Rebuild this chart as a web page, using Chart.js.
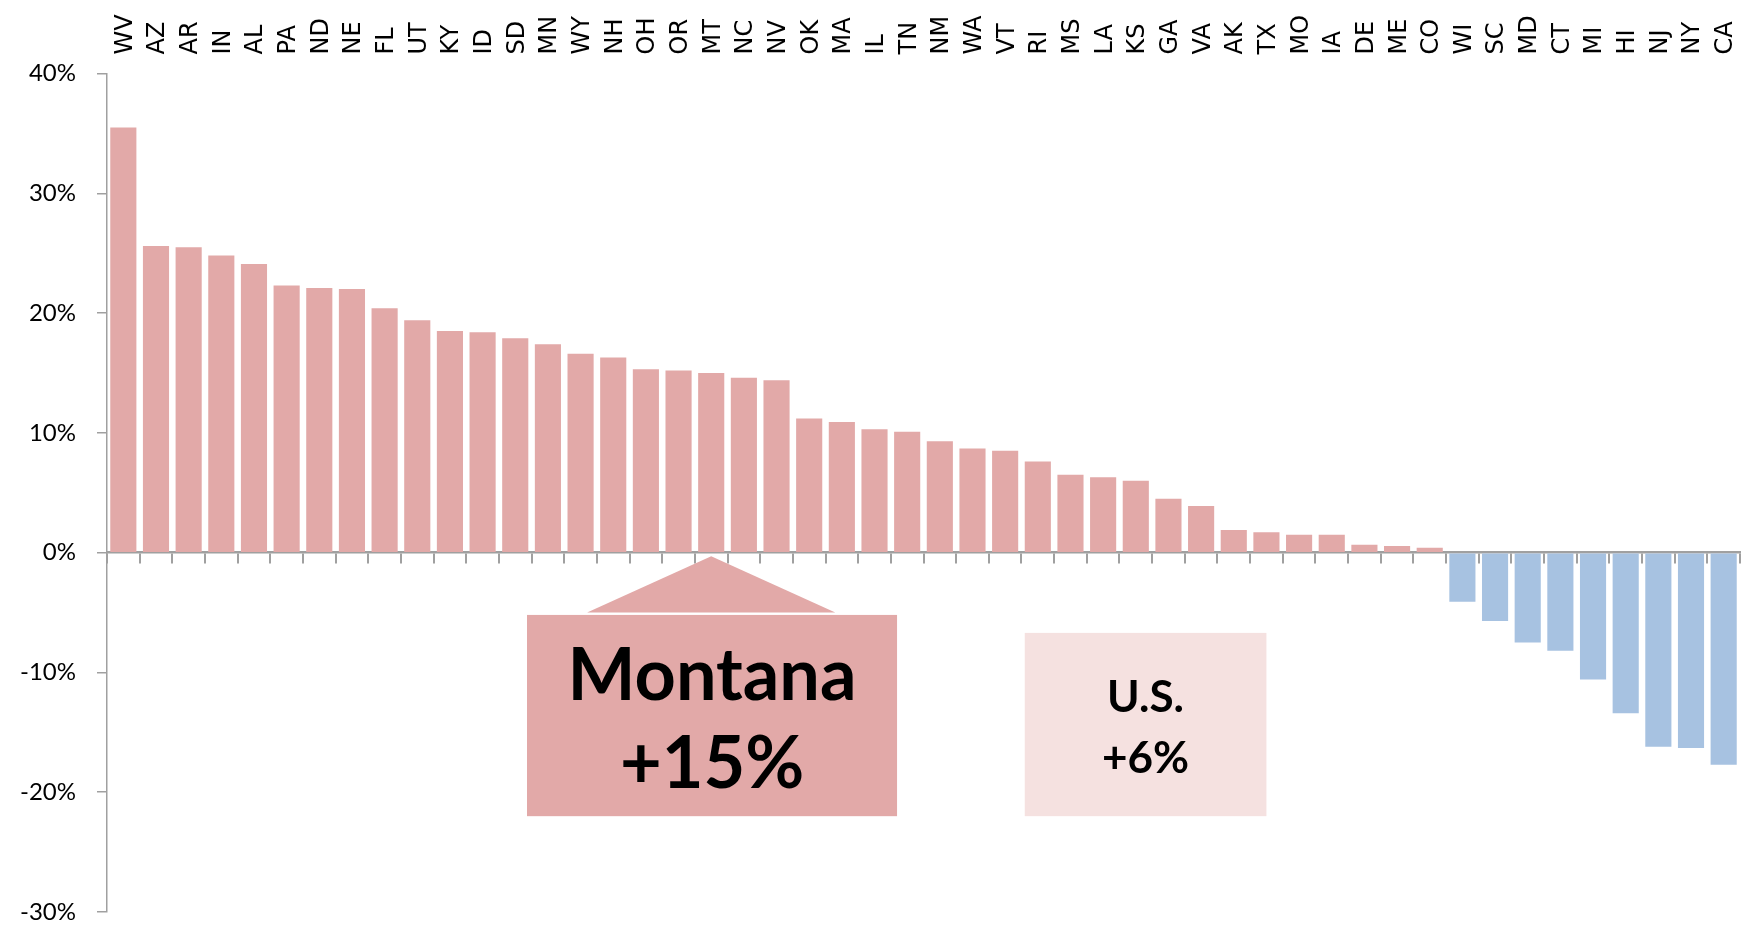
<!DOCTYPE html>
<html>
<head>
<meta charset="utf-8">
<script src="https://cdn.jsdelivr.net/npm/chart.js@4.4.1/dist/chart.umd.min.js"></script>
<style>
  html, body { margin: 0; padding: 0; background: #fff; }
  #wrap { width: 1748px; height: 929px; }
</style>
</head>
<body>
<div id="wrap"><canvas id="myChart" width="1748" height="929"></canvas></div>
<script>
// states, sorted by change
var states = ['WV','AZ','AR','IN','AL','PA','ND','NE','FL','UT','KY','ID','SD','MN','WY','NH','OH','OR','MT','NC',
  'NV','OK','MA','IL','TN','NM','WA','VT','RI','MS','LA','KS','GA','VA','AK','TX','MO','IA','DE','ME',
  'CO','WI','SC','MD','CT','MI','HI','NJ','NY','CA'];
// % change
var growth = [35.5, 25.6, 25.5, 24.8, 24.1, 22.3, 22.1, 22.0, 20.4, 19.4, 18.5, 18.4, 17.9, 17.4, 16.6, 16.3, 15.3, 15.2, 15.0, 14.6,
  14.4, 11.2, 10.9, 10.3, 10.1, 9.3, 8.7, 8.5, 7.6, 6.5, 6.3, 6.0, 4.5, 3.9, 1.9, 1.7, 1.5, 1.5, 0.65, 0.55,
  0.4, -4.1, -5.7, -7.5, -8.2, -10.6, -13.4, -16.2, -16.3, -17.7];
var yTicks = [-30, -20, -10, 0, 10, 20, 30, 40];
var montanaText = ['Montana', '+15%'];
var usText = ['U.S.', '+6%'];

var pink = '#E2A9A8';
var blue = '#A7C2E1';
var lightPink = '#F5E1E0';
var axisGray = '#A0A0A0';

Chart.defaults.color = '#000';
Chart.defaults.font.family = 'Lato';

// callout boxes, placed in data units (x = category index, y = percent)
var callouts = [
  {x0: 12.36, x1: 23.69, y0: -5.2, y1: -22.0, fill: pink, lines: montanaText, lineY: [-10.4, -17.7],
   font: 'bold 72px Lato', arrow: {tipX: 18, tipY: -0.3, left: 14.2, right: 21.8, baseY: -5.0}},
  {x0: 27.6, x1: 35.0, y0: -6.7, y1: -22.0, fill: lightPink, lines: usText, lineY: [-12.1, -17.2],
   font: 'bold 44px Lato'}
];

var calloutPlugin = {
  id: 'callouts',
  afterDatasetsDraw: function(chart) {
    var ctx = chart.ctx, xs = chart.scales.x, ys = chart.scales.y;
    callouts.forEach(function(c) {
      ctx.save();
      ctx.fillStyle = c.fill;
      var l = xs.getPixelForValue(c.x0), r = xs.getPixelForValue(c.x1);
      var t = ys.getPixelForValue(c.y0), b = ys.getPixelForValue(c.y1);
      ctx.fillRect(l, t, r - l, b - t);
      if (c.arrow) {
        var a = c.arrow;
        ctx.beginPath();
        ctx.moveTo(xs.getPixelForValue(a.tipX), ys.getPixelForValue(a.tipY));
        ctx.lineTo(xs.getPixelForValue(a.right), ys.getPixelForValue(a.baseY));
        ctx.lineTo(xs.getPixelForValue(a.left), ys.getPixelForValue(a.baseY));
        ctx.closePath();
        ctx.fill();
      }
      ctx.fillStyle = '#000';
      ctx.font = c.font;
      ctx.textAlign = 'center';
      ctx.textBaseline = 'middle';
      c.lines.forEach(function(txt, i) {
        ctx.fillText(txt, (l + r) / 2, ys.getPixelForValue(c.lineY[i]));
      });
      ctx.restore();
    });
  }
};

var myChart = new Chart(document.getElementById('myChart'), {
  type: 'bar',
  data: {
    labels: states,
    datasets: [{
      data: growth,
      backgroundColor: growth.map(function(v) { return v >= 0 ? pink : blue; }),
      barPercentage: 0.8,
      categoryPercentage: 1.0
    }]
  },
  options: {
    responsive: false,
    animation: false,
    layout: {padding: {left: 0, top: 0, right: 8, bottom: 17}},
    plugins: {legend: {display: false}, tooltip: {enabled: false}},
    scales: {
      x: {
        type: 'category',
        position: 'top',
        offset: true,
        grid: {display: false, drawTicks: false},
        border: {display: false},
        ticks: {
          autoSkip: false, minRotation: 90, maxRotation: 90, padding: 19, labelOffset: 31,
          font: {family: 'DejaVu Sans', size: 24}
        },
        afterFit: function(s) { s.height = 73.5; s.paddingLeft = 0; s.paddingRight = 0; }
      },
      x2: {
        type: 'category',
        axis: 'x',
        position: {y: 0},
        offset: true,
        grid: {offset: true, drawOnChartArea: false, drawTicks: true, tickLength: 10, color: axisGray, lineWidth: 2},
        border: {display: true, color: axisGray, width: 2.5},
        ticks: {display: false}
      },
      y: {
        min: -30,
        max: 40,
        afterBuildTicks: function(s) { s.ticks = yTicks.map(function(v) { return {value: v}; }); },
        grid: {drawOnChartArea: false, drawTicks: true, tickLength: 10, color: axisGray, lineWidth: 1.5},
        border: {display: true, color: axisGray, width: 1.5},
        ticks: {
          padding: 21,
          font: {family: 'Lato', size: 24},
          callback: function(v) { return v + '%'; }
        },
        afterFit: function(s) { s.width = 107; s.paddingTop = 0; s.paddingBottom = 0; }
      }
    }
  },
  plugins: [calloutPlugin]
});
</script>
</body>
</html>
